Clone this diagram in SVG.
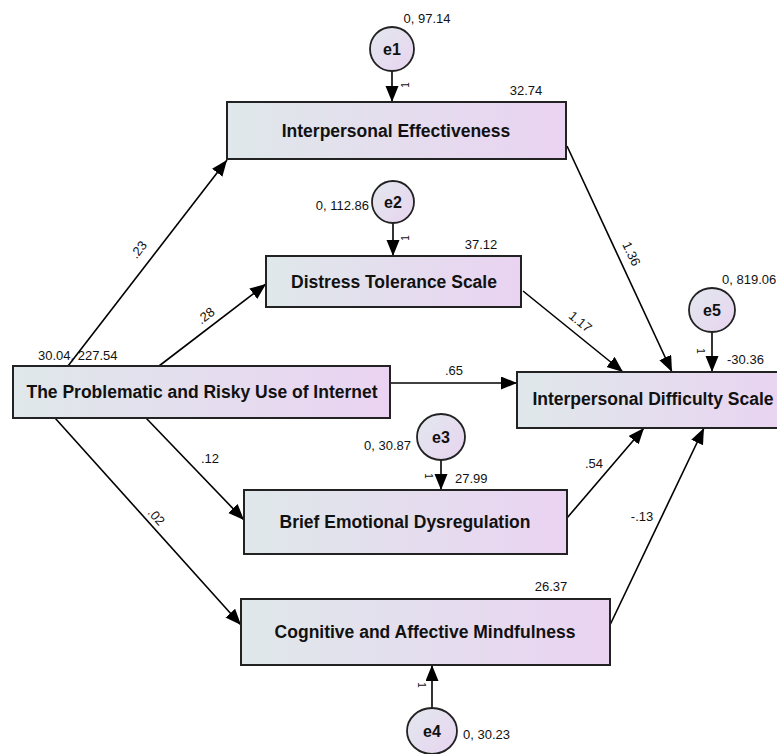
<svg xmlns="http://www.w3.org/2000/svg" width="777" height="754" viewBox="0 0 777 754">
<style>
.box{stroke:#222;stroke-width:2;fill:url(#g)}
.err{stroke:#222;stroke-width:1.8;fill:url(#gc)}
.lbl{font-family:"Liberation Sans",Arial,sans-serif;font-weight:bold;font-size:17.5px;fill:#111;text-anchor:middle}
.el{font-family:"Liberation Sans",Arial,sans-serif;font-weight:bold;font-size:16px;fill:#111;text-anchor:middle}
.num{font-family:"Liberation Sans",Arial,sans-serif;font-size:13px;fill:#111}
.one{font-family:"Liberation Sans",Arial,sans-serif;font-size:10px;fill:#111}
.con line{stroke:#000;stroke-width:1.6;marker-end:url(#ah)}
</style>
<defs>
<linearGradient id="g" x1="0" y1="0" x2="1" y2="0">
<stop offset="0" stop-color="#dfe8ea"/>
<stop offset="1" stop-color="#ead3f2"/>
</linearGradient>
<linearGradient id="gc" x1="0" y1="0" x2="1" y2="1">
<stop offset="0" stop-color="#e2e8ee"/>
<stop offset="1" stop-color="#e8d4f0"/>
</linearGradient>
<marker id="ah" markerUnits="userSpaceOnUse" markerWidth="18" markerHeight="14" refX="16" refY="6.5" orient="auto">
<path d="M0,0 L16,6.5 L0,13 Z" fill="#000"/>
</marker>
</defs>
<rect width="777" height="754" fill="#fff"/>
<g class="con" id="connectors">
<line x1="68" y1="366" x2="227" y2="160"/>
<line x1="159" y1="366" x2="266" y2="284"/>
<line x1="390" y1="383" x2="517" y2="383"/>
<line x1="146" y1="418" x2="244" y2="520"/>
<line x1="55" y1="418" x2="241" y2="625"/>
<line x1="567" y1="146" x2="672" y2="372"/>
<line x1="523" y1="291" x2="623" y2="372"/>
<line x1="567" y1="518" x2="644" y2="428"/>
<line x1="610" y1="625" x2="704" y2="428"/>
<line x1="392" y1="71" x2="392" y2="102"/>
<line x1="393" y1="223" x2="393" y2="256"/>
<line x1="441" y1="460" x2="441" y2="490"/>
<line x1="432" y1="708" x2="432" y2="665"/>
<line x1="712" y1="332" x2="712" y2="372"/>
</g>
<g id="pathlabels" class="num">
<text x="139" y="254" text-anchor="middle" transform="rotate(-52 139 250)">.23</text>
<text x="206" y="320" text-anchor="middle" transform="rotate(-38 206 316)">.28</text>
<text x="454" y="375" text-anchor="middle">.65</text>
<text x="210" y="463" text-anchor="middle">.12</text>
<text x="156" y="521" text-anchor="middle" transform="rotate(48 156 517)">.02</text>
<text x="631" y="258" text-anchor="middle" transform="rotate(65 631 254)">1.36</text>
<text x="580" y="326" text-anchor="middle" transform="rotate(39 580 322)">1.17</text>
<text x="594" y="468" text-anchor="middle">.54</text>
<text x="642" y="521" text-anchor="middle">-.13</text>
</g>
<g id="ones" class="one">
<text x="406" y="88" text-anchor="middle" transform="rotate(-90 406 85)">1</text>
<text x="406" y="241" text-anchor="middle" transform="rotate(-90 406 238)">1</text>
<text x="428" y="479" text-anchor="middle" transform="rotate(90 428 476)">1</text>
<text x="421" y="688" text-anchor="middle" transform="rotate(90 421 685)">1</text>
<text x="700" y="354" text-anchor="middle" transform="rotate(90 700 351)">1</text>
</g>
<g id="n_ie">
<rect class="box" x="227" y="102" width="339" height="57"/>
<text class="lbl" x="396" y="137">Interpersonal Effectiveness</text>
<text class="num" x="526" y="95" text-anchor="middle">32.74</text>
</g>
<g id="n_dt">
<rect class="box" x="266" y="256" width="255" height="51"/>
<text class="lbl" x="394" y="288">Distress Tolerance Scale</text>
<text class="num" x="481" y="249" text-anchor="middle">37.12</text>
</g>
<g id="n_p">
<rect class="box" x="13" y="366" width="377" height="52"/>
<text class="lbl" x="202" y="398">The Problematic and Risky Use of Internet</text>
<text class="num" x="38" y="360">30.04, 227.54</text>
</g>
<g id="n_ids">
<rect class="box" x="517" y="372" width="280" height="56"/>
<text class="lbl" x="653" y="405">Interpersonal Difficulty Scale</text>
<text class="num" x="727" y="364">-30.36</text>
</g>
<g id="n_bed">
<rect class="box" x="244" y="490" width="323" height="64"/>
<text class="lbl" x="405" y="528">Brief Emotional Dysregulation</text>
<text class="num" x="455" y="483">27.99</text>
</g>
<g id="n_cam">
<rect class="box" x="241" y="599" width="369" height="66"/>
<text class="lbl" x="425" y="638">Cognitive and Affective Mindfulness</text>
<text class="num" x="551" y="591" text-anchor="middle">26.37</text>
</g>
<g id="e1">
<ellipse class="err" cx="392" cy="49" rx="22" ry="22"/>
<text class="el" x="392" y="55">e1</text>
<text class="num" x="427" y="23" text-anchor="middle">0, 97.14</text>
</g>
<g id="e2">
<ellipse class="err" cx="393" cy="202" rx="21" ry="21"/>
<text class="el" x="393" y="208">e2</text>
<text class="num" x="369" y="210" text-anchor="end">0, 112.86</text>
</g>
<g id="e3">
<ellipse class="err" cx="441" cy="437" rx="24" ry="23"/>
<text class="el" x="441" y="443">e3</text>
<text class="num" x="411" y="450" text-anchor="end">0, 30.87</text>
</g>
<g id="e4">
<ellipse class="err" cx="432" cy="731" rx="25" ry="23"/>
<text class="el" x="432" y="737">e4</text>
<text class="num" x="463" y="739">0, 30.23</text>
</g>
<g id="e5">
<ellipse class="err" cx="712" cy="310" rx="23" ry="22"/>
<text class="el" x="712" y="316">e5</text>
<text class="num" x="722" y="284">0, 819.06</text>
</g>
</svg>
